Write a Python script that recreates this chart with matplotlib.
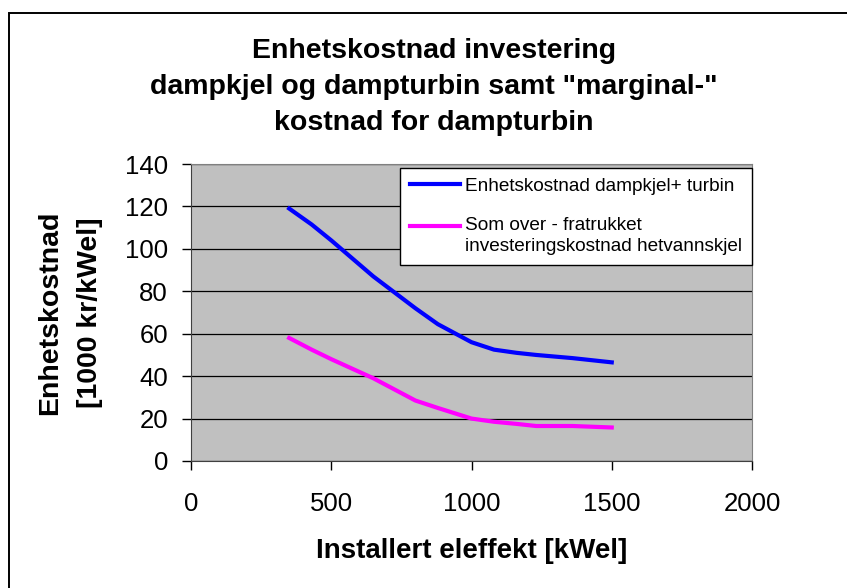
import matplotlib.pyplot as plt
from matplotlib.patches import Rectangle

plt.rcParams['font.family'] = ['Liberation Sans', 'DejaVu Sans']

effekt = [350, 430, 500, 650, 800, 880, 1000, 1080, 1160, 1230, 1360, 1500]
kost_total = [119, 111.5, 104, 87, 72, 64.5, 56, 52.5, 51, 50, 48.5, 46.5]
kost_marginal = [58, 52.5, 48, 39, 28.5, 25, 20, 18.5, 17.5, 16.5, 16.5, 15.8]

navn_total = 'Enhetskostnad dampkjel+ turbin'
navn_marginal = 'Som over - fratrukket\ninvesteringskostnad hetvannskjel'
tittel = 'Enhetskostnad investering\ndampkjel og dampturbin samt "marginal-"\nkostnad for dampturbin'

W, H = 847, 588
fig = plt.figure(figsize=(W / 100, H / 100), dpi=100)
# frame: only left and top edge visible in the original
fig.patches.append(Rectangle((9 / W, -0.05), 1.1, 1 - 12.5 / H + 0.05, transform=fig.transFigure,
                             fill=False, edgecolor='black', linewidth=1.4))

ax = fig.add_axes([191 / W, 1 - 461 / H, 561 / W, 297 / H])
ax.set_facecolor('#c0c0c0')
ax.plot(effekt, kost_total, color='#0000ff', lw=3, label=navn_total)
ax.plot(effekt, kost_marginal, color='#ff00ff', lw=3, label=navn_marginal)

ax.set_xlim(0, 2000)
ax.set_ylim(0, 140)
ax.set_xticks(range(0, 2001, 500))
ax.set_yticks(range(0, 141, 20))
ax.grid(axis='y', color='black', lw=0.9)
ax.set_axisbelow(True)
ax.tick_params(labelsize=18.5, length=6.5, width=1, direction='out')
ax.tick_params(axis='x', pad=16)
ax.tick_params(axis='y', pad=10)
for s in ['top', 'right']:
    ax.spines[s].set_color('#808080')
for s in ['left', 'bottom']:
    ax.spines[s].set_color('#404040')

ax.set_xlabel('Installert eleffekt [kWel]', fontsize=20, fontweight='bold', labelpad=16)
ax.set_ylabel('Enhetskostnad\n[1000 kr/kWel]', fontsize=20.5, fontweight='bold', labelpad=15.5,
              linespacing=1.7)
fig.text(434 / W, 1 - 38 / H, tittel, ha='center', va='top', fontsize=20.5,
         fontweight='bold', linespacing=1.49)

leg = ax.legend(loc='upper right', bbox_to_anchor=(1.0, 1 - 4 / 297), fontsize=13.7, frameon=True,
                fancybox=False, framealpha=1, handlelength=2.65, handletextpad=0.27,
                labelspacing=1.15, borderpad=0.5, borderaxespad=0)
leg.get_frame().set_edgecolor('black')
leg.get_frame().set_linewidth(1)
leg.get_texts()[1].set_linespacing(1.35)
for line in leg.get_lines():
    line.set_linewidth(3)
# put the second handle level with the first line of its label
h2 = leg.legend_handles[1]
h2.set_ydata([y + 7.4 for y in h2.get_ydata()])

fig.savefig('out.png', dpi=100)
